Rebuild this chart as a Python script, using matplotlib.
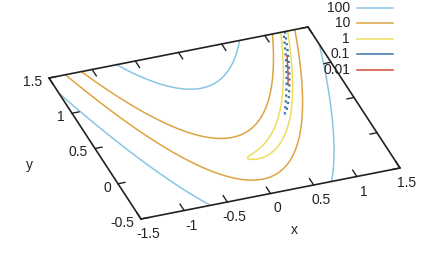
#!/usr/bin/env python3
# -*- coding: utf-8 -*-
"""
Rosenbrock contours on the base plane of a gnuplot-like 3D view
"""

import numpy as np
import matplotlib as mpl
mpl.use("Agg")
import matplotlib.pyplot as plt
from matplotlib.transforms import Affine2D

plt.rcParams['font.family'] = ['Liberation Sans', 'DejaVu Sans']

# data
x_range = (-1.5, 1.5)
y_range = (-0.5, 1.5)
rosen_a = 1.0
rosen_b = 100.0
levels = [0.01, 0.1, 1, 10, 100]
level_labels = ['0.01', '0.1', '1', '10', '100']
level_colors = ['#d24a3c', '#3f74a8', '#eedc5c', '#dca442', '#88c6e4']
level_styles = ['solid', 'dotted', 'solid', 'solid', 'solid']
level_widths = [0.5, 1.6, 1.1, 1.1, 1.1]
x_ticks = [-1.5, -1, -0.5, 0, 0.5, 1, 1.5]
y_ticks = [-0.5, 0, 0.5, 1, 1.5]

# where the plane corners land on the picture (pixels, y down)
corner_origin = (141.0, 219.0)      # (xmin, ymin)
corner_xmax = (400.0, 168.0)        # (xmax, ymin)
corner_ymax = (49.0, 78.0)          # (xmin, ymax)

W, H = 426, 264
fs = 10
fig = plt.figure(figsize=(W / 100, H / 100), dpi=100)
ax = fig.add_axes([0, 0, 1, 1])
ax.set_xlim(0, W)
ax.set_ylim(H, 0)
ax.axis('off')

dx = x_range[1] - x_range[0]
dy = y_range[1] - y_range[0]
ux = ((corner_xmax[0] - corner_origin[0]) / dx, (corner_xmax[1] - corner_origin[1]) / dx)
uy = ((corner_ymax[0] - corner_origin[0]) / dy, (corner_ymax[1] - corner_origin[1]) / dy)
c0 = corner_origin[0] - ux[0] * x_range[0] - uy[0] * y_range[0]
c1 = corner_origin[1] - ux[1] * x_range[0] - uy[1] * y_range[0]
proj = Affine2D(np.array([[ux[0], uy[0], c0],
                          [ux[1], uy[1], c1],
                          [0, 0, 1]])) + ax.transData

# surface
gx = np.linspace(x_range[0], x_range[1], 700)
gy = np.linspace(y_range[0], y_range[1], 500)
X, Y = np.meshgrid(gx, gy)
Z = (rosen_a - X) ** 2 + rosen_b * (Y - X ** 2) ** 2

ax.contour(X, Y, Z, levels=levels, colors=level_colors,
           linestyles=level_styles, linewidths=level_widths, transform=proj)

# frame
fx = [x_range[0], x_range[1], x_range[1], x_range[0], x_range[0]]
fy = [y_range[0], y_range[0], y_range[1], y_range[1], y_range[0]]
ax.plot(fx, fy, color='#222222', lw=1.2, transform=proj, solid_joinstyle='miter')

tl_y = 0.09
tl_x = 0.08
for xt in x_ticks:
    ax.plot([xt, xt], [y_range[0], y_range[0] + tl_y], color='#222222', lw=1.0, transform=proj)
    ax.plot([xt, xt], [y_range[1], y_range[1] - tl_y], color='#222222', lw=1.0, transform=proj)
    ax.annotate('{:g}'.format(xt), xy=(xt, y_range[0]), xycoords=proj,
                xytext=(7, -15), textcoords='offset pixels',
                ha='center', va='center', fontsize=fs, color='#222222')
for yt in y_ticks:
    ax.plot([x_range[0], x_range[0] + tl_x], [yt, yt], color='#222222', lw=1.0, transform=proj)
    ax.plot([x_range[1], x_range[1] - tl_x], [yt, yt], color='#222222', lw=1.0, transform=proj)
    ax.annotate('{:g}'.format(yt), xy=(x_range[0], yt), xycoords=proj,
                xytext=(-7, -4), textcoords='offset pixels',
                ha='right', va='center', fontsize=fs, color='#222222')

ax.annotate('x', xy=(0, y_range[0]), xycoords=proj, xytext=(24, -37),
            textcoords='offset pixels', ha='center', va='center', fontsize=fs, color='#222222')
ax.annotate('y', xy=(x_range[0], 0.5), xycoords=proj, xytext=(-66, -16),
            textcoords='offset pixels', ha='center', va='center', fontsize=fs, color='#222222')

# key, top right, gnuplot style
key_text_x = 350
key_line = (357, 393)
key_y0 = 7.5
key_step = 15.6
for i, (lab, col) in enumerate(zip(level_labels[::-1], level_colors[::-1])):
    yy = key_y0 + i * key_step
    ax.text(key_text_x, yy, lab, ha='right', va='center', fontsize=fs, color='#222222')
    ax.plot(key_line, [yy, yy], color=col, lw=1.1)

fig.savefig('out.png', dpi=100)
